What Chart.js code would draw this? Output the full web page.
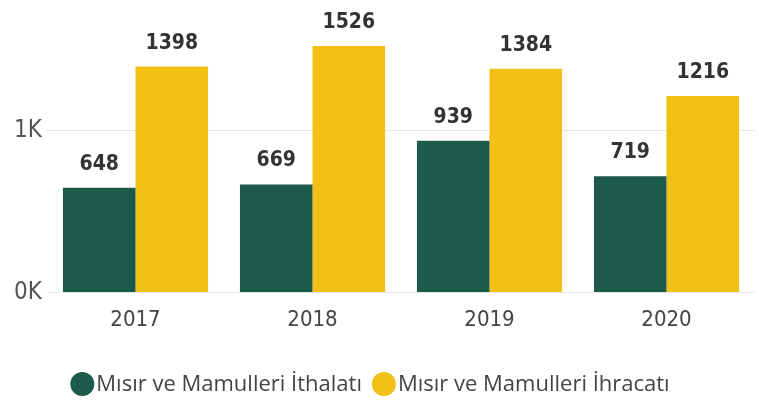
<!DOCTYPE html>
<html>
<head>
<meta charset="utf-8">
<script src="https://cdn.jsdelivr.net/npm/chart.js@4"></script>
<style>
  html, body { margin: 0; padding: 0; background: #fff; }
  #wrap { width: 759px; height: 405px; }
</style>
</head>
<body>
<div id="wrap"><canvas id="chart"></canvas></div>
<script>
// datos
const years = ['2017', '2018', '2019', '2020'];
const ithalat = [648, 669, 939, 719];
const ihracat = [1398, 1526, 1384, 1216];
const yTicks = [0, 1000];

const GREEN = '#1e5a49';
const YELLOW = '#f2bf14';
const NARROW = '"DejaVu Sans Condensed", sans-serif';

// etiquetas de valor encima de cada barra
const valueLabels = {
    id: 'valueLabels',
    afterDatasetsDraw(chart) {
        const ctx = chart.ctx;
        ctx.save();
        ctx.font = 'bold 21px ' + NARROW;
        ctx.fillStyle = '#333333';
        ctx.textAlign = 'center';
        ctx.textBaseline = 'alphabetic';
        chart.data.datasets.forEach((ds, i) => {
            chart.getDatasetMeta(i).data.forEach((bar, j) => {
                ctx.fillText(String(ds.data[j]), bar.x, bar.y - 18);
            });
        });
        ctx.restore();
    }
};

// leyenda dibujada a mano (círculo pegado al texto, como el original)
const customLegend = {
    id: 'customLegend',
    afterDraw(chart) {
        const ctx = chart.ctx;
        const r = 12, gap = 2, itemGap = 10, cy = 384;
        ctx.save();
        ctx.font = '22px "Open Sans", sans-serif';
        ctx.textBaseline = 'middle';
        ctx.textAlign = 'left';
        const items = chart.data.datasets.map(ds => ({
            label: ds.label, color: ds.backgroundColor, w: ctx.measureText(ds.label).width
        }));
        const total = items.reduce((s, it) => s + 2 * r + gap + it.w, 0) + itemGap * (items.length - 1);
        let x = 370 - total / 2;
        items.forEach(it => {
            ctx.fillStyle = it.color;
            ctx.beginPath();
            ctx.arc(x + r, cy, r, 0, Math.PI * 2);
            ctx.fill();
            x += 2 * r + gap;
            ctx.fillStyle = '#444444';
            ctx.fillText(it.label, x, cy + 1);
            x += it.w + itemGap;
        });
        ctx.restore();
    }
};

new Chart(document.getElementById('chart'), {
    type: 'bar',
    data: {
        labels: years,
        datasets: [
            { label: 'Mısır ve Mamulleri İthalatı', data: ithalat, backgroundColor: GREEN },
            { label: 'Mısır ve Mamulleri İhracatı', data: ihracat, backgroundColor: YELLOW }
        ]
    },
    options: {
        responsive: true,
        maintainAspectRatio: false,
        animation: false,
        datasets: { bar: { categoryPercentage: 0.82, barPercentage: 1.0 } },
        layout: { padding: { top: 0, right: 4, left: 0, bottom: 58 } },
        plugins: {
            legend: { display: false },
            tooltip: { enabled: false }
        },
        scales: {
            x: {
                grid: { display: false, drawTicks: false },
                border: { display: false },
                ticks: {
                    color: '#444444',
                    padding: 14,
                    font: { family: NARROW, size: 22 }
                }
            },
            y: {
                min: 0,
                max: 1690,
                afterBuildTicks: (scale) => { scale.ticks = yTicks.map(v => ({ value: v })); },
                afterFit: (scale) => { scale.width = 47; },
                grid: { color: '#e6e6e6', drawTicks: false },
                border: { display: false },
                ticks: {
                    color: '#555555',
                    padding: 5,
                    font: { family: NARROW, size: 24 },
                    callback: (v) => (v / 1000) + 'K'
                }
            }
        }
    },
    plugins: [valueLabels, customLegend]
});
</script>
</body>
</html>
